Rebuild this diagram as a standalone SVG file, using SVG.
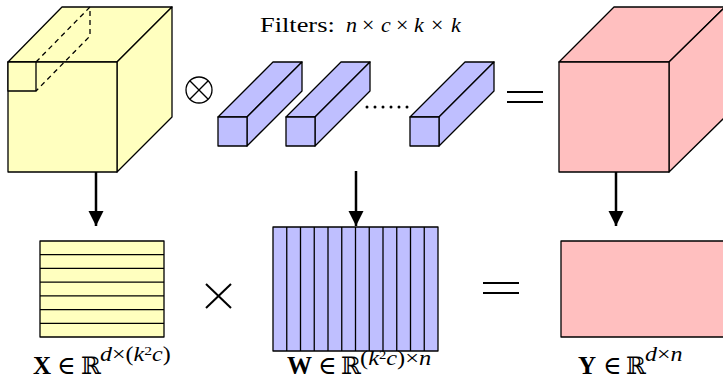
<svg xmlns="http://www.w3.org/2000/svg" width="723" height="379" viewBox="0 0 723 379">
<style>
.y{fill:#ffffbf;stroke:#000;stroke-width:1.3;stroke-linejoin:round}
.b{fill:#bfbfff;stroke:#000;stroke-width:1.3;stroke-linejoin:round}
.p{fill:#ffbfbf;stroke:#000;stroke-width:1.3;stroke-linejoin:round}
.ln{stroke:#000;stroke-width:1.3;fill:none}
.dash{stroke:#000;stroke-width:1.3;fill:none;stroke-dasharray:5,4}
.op{stroke:#000;stroke-width:2;fill:none}
.t{font-family:"Liberation Serif","DejaVu Serif",serif;font-size:22px;fill:#000}
.m{font-family:"Liberation Serif","DejaVu Serif",serif;font-size:25px;fill:#000}
.s{font-family:"Liberation Serif","DejaVu Serif",serif;font-size:20px;fill:#000}
.i{font-style:italic}
.bd{font-weight:bold}
.bb{font-family:"DejaVu Serif",serif;font-size:24px}
</style>
<defs>
<marker id="ah" viewBox="0 0 15 20" refX="15" refY="10" markerWidth="15" markerHeight="20" markerUnits="userSpaceOnUse" orient="auto">
<path d="M0,2.5 L15,10 L0,17.5 Z" fill="#000"/>
</marker>
</defs>

<g id="input-tensor">
<polygon class="y" points="8,62 62,7 172,7 117,62"/>
<polygon class="y" points="117,62 172,7 172,117 117,172"/>
<rect class="y" x="8" y="62" width="109" height="110"/>
<rect class="y" x="8" y="62" width="28" height="29"/>
<polyline class="dash" points="36,62 90,7 90,36 36,91"/>
</g>

<g id="conv-op">
<circle class="ln" cx="199" cy="90" r="13"/>
<line class="ln" x1="189.8" y1="80.8" x2="208.2" y2="99.2"/>
<line class="ln" x1="208.2" y1="80.8" x2="189.8" y2="99.2"/>
</g>

<g id="filters">
<text class="t" transform="translate(260,32) scale(1.2,1)">Filters:</text>
<text class="t"><tspan class="i" x="346" y="32">n</tspan><tspan x="362" y="32">×</tspan><tspan class="i" x="381" y="32">c</tspan><tspan x="396" y="32">×</tspan><tspan class="i" x="414" y="32">k</tspan><tspan x="431" y="32">×</tspan><tspan class="i" x="451" y="32">k</tspan></text>
<g id="filter1">
<polygon class="b" points="218,117 273,62 302,62 247,117"/>
<polygon class="b" points="247,117 302,62 302,91 247,146"/>
<rect class="b" x="218" y="117" width="29" height="29"/>
</g>
<g id="filter2">
<polygon class="b" points="286,117 341,62 370,62 315,117"/>
<polygon class="b" points="315,117 370,62 370,91 315,146"/>
<rect class="b" x="286" y="117" width="29" height="29"/>
</g>
<g id="dots" fill="#000">
<circle cx="367" cy="107" r="1.5"/>
<circle cx="375" cy="107" r="1.5"/>
<circle cx="383" cy="107" r="1.5"/>
<circle cx="391" cy="107" r="1.5"/>
<circle cx="399" cy="107" r="1.5"/>
<circle cx="407" cy="107" r="1.5"/>
</g>
<g id="filter3">
<polygon class="b" points="410,117 465,62 494,62 439,117"/>
<polygon class="b" points="439,117 494,62 494,91 439,146"/>
<rect class="b" x="410" y="117" width="29" height="29"/>
</g>
</g>

<g id="equals-top">
<line class="op" x1="507" y1="92" x2="543" y2="92"/>
<line class="op" x1="507" y1="102" x2="543" y2="102"/>
</g>

<g id="output-tensor">
<polygon class="p" points="559,62 614,7 725,7 669,62"/>
<polygon class="p" points="669,62 725,7 725,117 669,172"/>
<rect class="p" x="559" y="62" width="110" height="110"/>
</g>

<g id="connectors">
<line x1="96" y1="172" x2="96" y2="226" stroke="#000" stroke-width="2.5" marker-end="url(#ah)"/>
<line x1="356" y1="171" x2="356" y2="226" stroke="#000" stroke-width="2.5" marker-end="url(#ah)"/>
<line x1="616" y1="172" x2="616" y2="226" stroke="#000" stroke-width="2.5" marker-end="url(#ah)"/>
</g>

<g id="matrix-x">
<rect class="y" x="40" y="241" width="124" height="96"/>
<line class="ln" x1="40" y1="254.7" x2="164" y2="254.7"/>
<line class="ln" x1="40" y1="268.4" x2="164" y2="268.4"/>
<line class="ln" x1="40" y1="282.1" x2="164" y2="282.1"/>
<line class="ln" x1="40" y1="295.9" x2="164" y2="295.9"/>
<line class="ln" x1="40" y1="309.6" x2="164" y2="309.6"/>
<line class="ln" x1="40" y1="323.3" x2="164" y2="323.3"/>
<text class="m"><tspan class="bd" x="33" y="374">X</tspan><tspan x="57" y="374">∈</tspan><tspan class="bb" x="81" y="374">ℝ</tspan></text>
<text class="s" transform="translate(100,361) scale(1.2,1)"><tspan class="i">d</tspan>×(<tspan class="i">k</tspan><tspan font-size="13" dy="-6">2</tspan><tspan class="i" dy="6">c</tspan>)</text>
</g>

<g id="times-op">
<line class="op" x1="206" y1="284" x2="231" y2="308"/>
<line class="op" x1="231" y1="284" x2="206" y2="308"/>
</g>

<g id="matrix-w">
<rect class="b" x="273" y="227" width="165" height="124"/>
<g class="ln">
<line x1="286.75" y1="227" x2="286.75" y2="351"/>
<line x1="300.5" y1="227" x2="300.5" y2="351"/>
<line x1="314.25" y1="227" x2="314.25" y2="351"/>
<line x1="328" y1="227" x2="328" y2="351"/>
<line x1="341.75" y1="227" x2="341.75" y2="351"/>
<line x1="355.5" y1="227" x2="355.5" y2="351"/>
<line x1="369.25" y1="227" x2="369.25" y2="351"/>
<line x1="383" y1="227" x2="383" y2="351"/>
<line x1="396.75" y1="227" x2="396.75" y2="351"/>
<line x1="410.5" y1="227" x2="410.5" y2="351"/>
<line x1="424.25" y1="227" x2="424.25" y2="351"/>
</g>
<text class="m"><tspan class="bd" x="287" y="374">W</tspan><tspan x="318" y="374">∈</tspan><tspan class="bb" x="341" y="374">ℝ</tspan></text>
<text class="s" font-size="19" transform="translate(360,365) scale(1.22,1)">(<tspan class="i">k</tspan><tspan font-size="12" dy="-6">2</tspan><tspan class="i" dy="6">c</tspan>)×<tspan class="i">n</tspan></text>
</g>

<g id="equals-bottom">
<line class="op" x1="483" y1="283" x2="519" y2="283"/>
<line class="op" x1="483" y1="293" x2="519" y2="293"/>
</g>

<g id="matrix-y">
<rect class="p" x="561" y="241" width="170" height="96"/>
<text class="m"><tspan class="bd" x="578" y="374">Y</tspan><tspan x="603" y="374">∈</tspan><tspan class="bb" x="626" y="374">ℝ</tspan></text>
<text class="s" transform="translate(645,361) scale(1.2,1)"><tspan class="i">d</tspan>×<tspan class="i">n</tspan></text>
</g>
</svg>
